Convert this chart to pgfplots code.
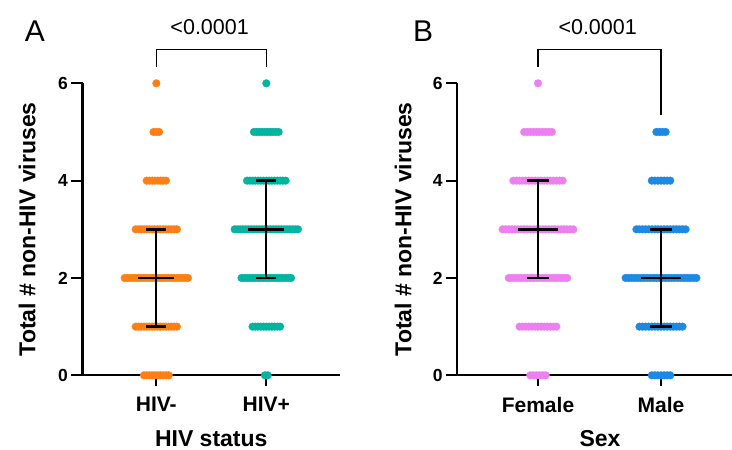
\documentclass[border=0pt]{standalone}
\usepackage{pgfplots}
\pgfplotsset{compat=1.18}
\usepackage{fontspec}
\setmainfont{Liberation Sans}
\definecolor{cneg}{RGB}{255,127,20}
\definecolor{cpos}{RGB}{0,180,160}
\definecolor{cfem}{RGB}{236,128,240}
\definecolor{cmal}{RGB}{28,138,228}
\pgfplotsset{
  panel/.style={
    scale only axis, height=292bp,
    ymin=0, ymax=6,
    axis lines*=left, clip=false, clip marker paths=true,
    ytick={0,2,4,6}, xtick={0,1},
    tick align=outside, major tick length=11bp, minor tick num=0,
    axis line style={line width=2bp, black},
    tick style={line width=2bp, black},
    /pgf/number format/assume math mode=true,
    yticklabel style={font=\bfseries\fontsize{17.5bp}{20bp}\selectfont},
    xticklabel style={font=\bfseries\fontsize{21bp}{24bp}\selectfont, yshift=-7bp},
    label style={font=\bfseries\fontsize{23bp}{26bp}\selectfont},
  },
  dots/.style={only marks, mark=*, mark size=3.9bp, mark options={draw=#1, fill=#1, line width=0.2bp}},
  iqrh/.style={draw=black, line width=2.6bp, mark=none},
  iqrv/.style={draw=black, line width=2bp, mark=none},
}
\begin{document}
\begin{tikzpicture}
\path[use as bounding box] (0,0) rectangle (732bp,450bp);
% ---------------- Panel A ----------------
\begin{axis}[panel, at={(82.5bp,74.7bp)}, anchor=south west, width=257.5bp,
  xmin=-0.671, xmax=1.670, xticklabels={HIV-,HIV+},
  xlabel={HIV status}, ylabel={Total \# non-HIV viruses},
  xlabel style={at={(axis description cs:0.5,-0.243)}, anchor=base},
  ylabel style={at={(axis description cs:-0.215,0.5)}, anchor=center}]
\addplot[dots=cneg] coordinates {
(0,6)
(-0.025,5)(0,5)(0.025,5)
(-0.0875,4)(-0.0625,4)(-0.0375,4)(-0.0125,4)(0.0125,4)(0.0375,4)(0.0625,4)(0.0875,4)
(-0.1875,3)(-0.1625,3)(-0.1375,3)(-0.1125,3)(-0.0875,3)(-0.0625,3)(-0.0375,3)(-0.0125,3)(0.0125,3)(0.0375,3)(0.0625,3)(0.0875,3)(0.1125,3)(0.1375,3)(0.1625,3)(0.1875,3)
(-0.2875,2)(-0.2625,2)(-0.2375,2)(-0.2125,2)(-0.1875,2)(-0.1625,2)(-0.1375,2)(-0.1125,2)(-0.0875,2)(-0.0625,2)(-0.0375,2)(-0.0125,2)(0.0125,2)(0.0375,2)(0.0625,2)(0.0875,2)(0.1125,2)(0.1375,2)(0.1625,2)(0.1875,2)(0.2125,2)(0.2375,2)(0.2625,2)(0.2875,2)
(-0.1875,1)(-0.1625,1)(-0.1375,1)(-0.1125,1)(-0.0875,1)(-0.0625,1)(-0.0375,1)(-0.0125,1)(0.0125,1)(0.0375,1)(0.0625,1)(0.0875,1)(0.1125,1)(0.1375,1)(0.1625,1)(0.1875,1)
(-0.1125,0)(-0.0875,0)(-0.0625,0)(-0.0375,0)(-0.0125,0)(0.0125,0)(0.0375,0)(0.0625,0)(0.0875,0)(0.1125,0)
};
\addplot[dots=cpos] coordinates {
(1,6)
(0.8875,5)(0.9125,5)(0.9375,5)(0.9625,5)(0.9875,5)(1.0125,5)(1.0375,5)(1.0625,5)(1.0875,5)(1.1125,5)
(0.825,4)(0.85,4)(0.875,4)(0.9,4)(0.925,4)(0.95,4)(0.975,4)(1,4)(1.025,4)(1.05,4)(1.075,4)(1.1,4)(1.125,4)(1.15,4)(1.175,4)
(0.7125,3)(0.7375,3)(0.7625,3)(0.7875,3)(0.8125,3)(0.8375,3)(0.8625,3)(0.8875,3)(0.9125,3)(0.9375,3)(0.9625,3)(0.9875,3)(1.0125,3)(1.0375,3)(1.0625,3)(1.0875,3)(1.1125,3)(1.1375,3)(1.1625,3)(1.1875,3)(1.2125,3)(1.2375,3)(1.2625,3)(1.2875,3)
(0.775,2)(0.8,2)(0.825,2)(0.85,2)(0.875,2)(0.9,2)(0.925,2)(0.95,2)(0.975,2)(1,2)(1.025,2)(1.05,2)(1.075,2)(1.1,2)(1.125,2)(1.15,2)(1.175,2)(1.2,2)(1.225,2)
(0.875,1)(0.9,1)(0.925,1)(0.95,1)(0.975,1)(1,1)(1.025,1)(1.05,1)(1.075,1)(1.1,1)(1.125,1)
(0.9875,0)(1.0125,0)
};
% median and interquartile range
\addplot[iqrv] coordinates {(0,1)(0,3)};
\addplot[iqrh] coordinates {(-0.165,2)(0.165,2)};
\addplot[iqrh] coordinates {(-0.092,3)(0.092,3)};
\addplot[iqrh] coordinates {(-0.092,1)(0.092,1)};
\addplot[iqrv] coordinates {(1,2)(1,4)};
\addplot[iqrh] coordinates {(0.835,3)(1.165,3)};
\addplot[iqrh] coordinates {(0.908,4)(1.092,4)};
\addplot[iqrh] coordinates {(0.908,2)(1.092,2)};
\draw[line width=1.3bp] (axis cs:0,6.335) -- (axis cs:0,6.692) -- (axis cs:1,6.692) -- (axis cs:1,6.335);
\node[anchor=base, font=\fontsize{21.5bp}{24bp}\selectfont] at (axis cs:0.485,7.0) {<0.0001};
\end{axis}
% ---------------- Panel B ----------------
\begin{axis}[panel, at={(457bp,74.7bp)}, anchor=south west, width=275bp,
  xmin=-0.6585, xmax=1.5772, xticklabels={Female,Male},
  xlabel={Sex}, ylabel={Total \# non-HIV viruses},
  xlabel style={at={(axis description cs:0.52,-0.243)}, anchor=base},
  ylabel style={at={(axis description cs:-0.196,0.5)}, anchor=center}]
\addplot[dots=cfem] coordinates {
(0,6)
(-0.1125,5)(-0.0875,5)(-0.0625,5)(-0.0375,5)(-0.0125,5)(0.0125,5)(0.0375,5)(0.0625,5)(0.0875,5)(0.1125,5)
(-0.2,4)(-0.175,4)(-0.15,4)(-0.125,4)(-0.1,4)(-0.075,4)(-0.05,4)(-0.025,4)(0,4)(0.025,4)(0.05,4)(0.075,4)(0.1,4)(0.125,4)(0.15,4)(0.175,4)(0.2,4)
(-0.2875,3)(-0.2625,3)(-0.2375,3)(-0.2125,3)(-0.1875,3)(-0.1625,3)(-0.1375,3)(-0.1125,3)(-0.0875,3)(-0.0625,3)(-0.0375,3)(-0.0125,3)(0.0125,3)(0.0375,3)(0.0625,3)(0.0875,3)(0.1125,3)(0.1375,3)(0.1625,3)(0.1875,3)(0.2125,3)(0.2375,3)(0.2625,3)(0.2875,3)
(-0.2375,2)(-0.2125,2)(-0.1875,2)(-0.1625,2)(-0.1375,2)(-0.1125,2)(-0.0875,2)(-0.0625,2)(-0.0375,2)(-0.0125,2)(0.0125,2)(0.0375,2)(0.0625,2)(0.0875,2)(0.1125,2)(0.1375,2)(0.1625,2)(0.1875,2)(0.2125,2)(0.2375,2)
(-0.15,1)(-0.125,1)(-0.1,1)(-0.075,1)(-0.05,1)(-0.025,1)(0,1)(0.025,1)(0.05,1)(0.075,1)(0.1,1)(0.125,1)(0.15,1)
(-0.0625,0)(-0.0375,0)(-0.0125,0)(0.0125,0)(0.0375,0)(0.0625,0)
};
\addplot[dots=cmal] coordinates {
(0.9625,5)(0.9875,5)(1.0125,5)(1.0375,5)
(0.925,4)(0.95,4)(0.975,4)(1,4)(1.025,4)(1.05,4)(1.075,4)
(0.8,3)(0.825,3)(0.85,3)(0.875,3)(0.9,3)(0.925,3)(0.95,3)(0.975,3)(1,3)(1.025,3)(1.05,3)(1.075,3)(1.1,3)(1.125,3)(1.15,3)(1.175,3)(1.2,3)
(0.7125,2)(0.7375,2)(0.7625,2)(0.7875,2)(0.8125,2)(0.8375,2)(0.8625,2)(0.8875,2)(0.9125,2)(0.9375,2)(0.9625,2)(0.9875,2)(1.0125,2)(1.0375,2)(1.0625,2)(1.0875,2)(1.1125,2)(1.1375,2)(1.1625,2)(1.1875,2)(1.2125,2)(1.2375,2)(1.2625,2)(1.2875,2)
(0.825,1)(0.85,1)(0.875,1)(0.9,1)(0.925,1)(0.95,1)(0.975,1)(1,1)(1.025,1)(1.05,1)(1.075,1)(1.1,1)(1.125,1)(1.15,1)(1.175,1)
(0.925,0)(0.95,0)(0.975,0)(1,0)(1.025,0)(1.05,0)(1.075,0)
};
\addplot[iqrv] coordinates {(0,2)(0,4)};
\addplot[iqrh] coordinates {(-0.165,3)(0.165,3)};
\addplot[iqrh] coordinates {(-0.092,4)(0.092,4)};
\addplot[iqrh] coordinates {(-0.092,2)(0.092,2)};
\addplot[iqrv] coordinates {(1,1)(1,3)};
\addplot[iqrh] coordinates {(0.835,2)(1.165,2)};
\addplot[iqrh] coordinates {(0.908,3)(1.092,3)};
\addplot[iqrh] coordinates {(0.908,1)(1.092,1)};
\draw[line width=1.3bp] (axis cs:0,6.335) -- (axis cs:0,6.692) -- (axis cs:1,6.692) -- (axis cs:1,5.342);
\node[anchor=base, font=\fontsize{21.5bp}{24bp}\selectfont] at (axis cs:0.485,7.0) {<0.0001};
\end{axis}
\node[anchor=base, font=\fontsize{30bp}{30bp}\selectfont] at (35bp,408.3bp) {A};
\node[anchor=base, font=\fontsize{30bp}{30bp}\selectfont] at (423bp,408.3bp) {B};
\end{tikzpicture}
\end{document}
